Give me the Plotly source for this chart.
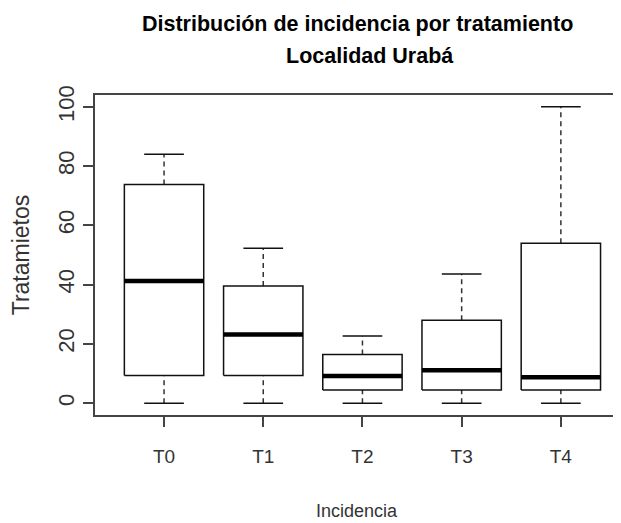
import plotly.graph_objects as go

# Datos (boxplot por tratamiento)
tratamientos = ["T0", "T1", "T2", "T3", "T4"]
minimos = [0, 0, 0, 0, 0]
q1 = [9.3, 9.3, 4.4, 4.4, 4.4]
medianas = [41.2, 23.2, 9.2, 11.1, 8.7]
q3 = [73.8, 39.5, 16.4, 28.0, 54.0]
maximos = [84.0, 52.3, 22.7, 43.6, 100.0]
y_ticks = [0, 20, 40, 60, 80, 100]

titulo_1 = "Distribución de incidencia por tratamiento"
titulo_2 = "Localidad Urabá"

fuente = "Liberation Sans, Arial, sans-serif"

ancho_caja = 0.4
ancho_bigote = 0.2

fig = go.Figure()

for i, t in enumerate(tratamientos):
    # bigotes punteados
    for a, b in [(q3[i], maximos[i]), (minimos[i], q1[i])]:
        fig.add_trace(go.Scatter(
            x=[i, i], y=[a, b], mode="lines",
            line=dict(color="#333333", width=1.5, dash="5px,4px"),
            showlegend=False, hoverinfo="skip"))
    # topes
    for v in [maximos[i], minimos[i]]:
        fig.add_trace(go.Scatter(
            x=[i - ancho_bigote, i + ancho_bigote], y=[v, v], mode="lines",
            line=dict(color="#111111", width=1.5),
            showlegend=False, hoverinfo="skip"))
    # caja
    fig.add_trace(go.Scatter(
        x=[i - ancho_caja, i + ancho_caja, i + ancho_caja, i - ancho_caja, i - ancho_caja],
        y=[q1[i], q1[i], q3[i], q3[i], q1[i]],
        mode="lines", fill="toself", fillcolor="white",
        line=dict(color="#111111", width=1.5),
        showlegend=False, name=t))
    # mediana
    fig.add_trace(go.Scatter(
        x=[i - ancho_caja, i + ancho_caja], y=[medianas[i], medianas[i]],
        mode="lines", line=dict(color="black", width=4.5),
        showlegend=False, hoverinfo="skip"))

# la página deja 8px de margen, se compensa aquí
fig.update_layout(
    width=613, height=515,
    margin=dict(l=87, r=3, t=87, b=108),
    plot_bgcolor="white", paper_bgcolor="white",
    annotations=[
        dict(text=f"<b>{titulo_1}</b>", xref="paper", yref="paper",
             x=0.502, y=1.222, xanchor="center", yanchor="middle", showarrow=False,
             font=dict(family=fuente, size=21.5, color="black")),
        dict(text=f"<b>{titulo_2}</b>", xref="paper", yref="paper",
             x=0.526, y=1.122, xanchor="center", yanchor="middle", showarrow=False,
             font=dict(family=fuente, size=21.5, color="black")),
    ],
)

fig.update_xaxes(
    range=[-0.696, 4.576], automargin=False,
    tickmode="array", tickvals=list(range(len(tratamientos))), ticktext=tratamientos,
    ticks="outside", ticklen=10, tickwidth=1.5, tickcolor="#444444",
    showline=True, linecolor="#444444", linewidth=2, mirror=True,
    showgrid=False, zeroline=False, ticklabelstandoff=13,
    tickfont=dict(family=fuente, size=19, color="#333333"),
    title=dict(text="Incidencia", font=dict(family=fuente, size=18, color="#333333"), standoff=39),
)
fig.update_yaxes(
    range=[-4, 104], automargin=False,
    tickmode="array", tickvals=y_ticks, ticktext=[str(v) for v in y_ticks],
    ticks="outside", ticklen=10, tickwidth=1.5, tickcolor="#444444",
    showline=True, linecolor="#444444", linewidth=2, mirror=True,
    showgrid=False, zeroline=False, tickangle=-90,
    tickfont=dict(family=fuente, size=22, color="#333333"),
    title=dict(text="Tratamietos", font=dict(family=fuente, size=23, color="#333333"), standoff=20),
)

fig.write_html("out.html")
